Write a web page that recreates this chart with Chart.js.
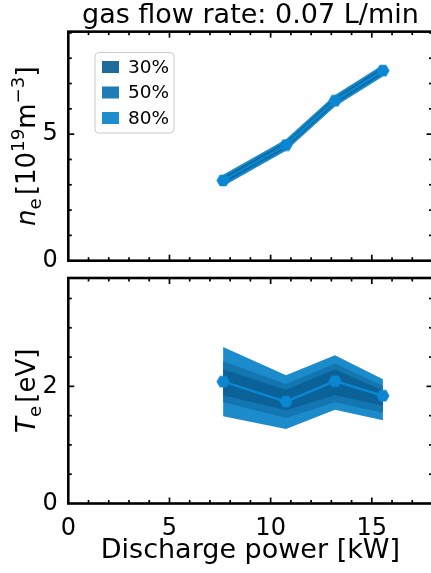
<!DOCTYPE html>
<html>
<head>
<meta charset="utf-8">
<script src="https://cdn.jsdelivr.net/npm/chart.js@4.4.1/dist/chart.umd.min.js"></script>
<style>
  html, body { margin: 0; padding: 0; background: #fff; overflow: hidden; }
  #wrap { position: relative; width: 431px; height: 573px; overflow: hidden; }
  .panel { position: absolute; left: 0; }
  #topPanel { top: 0; }
  #bottomPanel { top: 268px; }
</style>
</head>
<body>
<div id="wrap">
  <div class="panel" id="topPanel"><canvas id="neChart" width="470" height="276"></canvas></div>
  <div class="panel" id="bottomPanel"><canvas id="teChart" width="470" height="305"></canvas></div>
</div>
<script>
// Discharge power [kW] of each measurement
const power = [7.65, 10.76, 13.18, 15.55];

// Electron density [1e19 m^-3]: median and credible bands
const neMedian = [3.17, 4.57, 6.32, 7.51];
const neLow30  = [3.07, 4.47, 6.22, 7.41];
const neHigh30 = [3.27, 4.67, 6.42, 7.61];
const neLow50  = [3.02, 4.42, 6.17, 7.36];
const neHigh50 = [3.32, 4.72, 6.47, 7.66];
const neLow80  = [2.94, 4.34, 6.09, 7.28];
const neHigh80 = [3.40, 4.80, 6.55, 7.74];

// Electron temperature [eV]: median and credible bands
const teMedian = [2.08, 1.74, 2.09, 1.84];
const teLow30  = [1.85, 1.59, 1.85, 1.67];
const teHigh30 = [2.29, 1.94, 2.29, 1.93];
const teLow50  = [1.73, 1.46, 1.73, 1.55];
const teHigh50 = [2.43, 2.04, 2.39, 2.01];
const teLow80  = [1.49, 1.27, 1.60, 1.42];
const teHigh80 = [2.67, 2.19, 2.53, 2.12];

const bandLabels = ['30%', '50%', '80%'];

// Axis ticks
const powerTicks = [0, 5, 10, 15];
const powerMinorTicks = [1, 2, 3, 4, 6, 7, 8, 9, 11, 12, 13, 14, 16, 17];
const neTicks = [0, 5];
const neMinorTicks = [1, 2, 3, 4, 6, 7, 8, 9];
const teTicks = [0, 2];
const teMinorTicks = [0.5, 1, 1.5, 2.5, 3, 3.5];

// Styling
const FONT = '"DejaVu Sans", sans-serif';
const lineColor = '#0a86d2';
const bandFill = ['#0b6298', '#1476b0', '#1b8bcb'];
const legendFill = ['#1d6b9b', '#1d7db6', '#1c8dcc'];

Chart.defaults.font.family = FONT;
Chart.defaults.color = '#000';

// Flat-topped hexagon marker
const hexMarker = (() => {
  const c = document.createElement('canvas');
  c.width = 14; c.height = 13;
  const g = c.getContext('2d');
  const r = 6.6, cx = 7, cy = 6.5;
  g.beginPath();
  for (let k = 0; k < 6; k++) {
    const a = Math.PI / 3 * k;
    const px = cx + r * Math.cos(a), py = cy + r * Math.sin(a);
    k ? g.lineTo(px, py) : g.moveTo(px, py);
  }
  g.closePath();
  g.fillStyle = lineColor;
  g.fill();
  return c;
})();

function pts(ys) { return power.map((x, i) => ({ x, y: ys[i] })); }

function buildDatasets(median, bands) {
  const ds = [{
    data: pts(median), borderColor: lineColor, borderWidth: 2.5,
    pointStyle: hexMarker, pointRadius: 6.5, pointHoverRadius: 6.5, fill: false
  }];
  bands.forEach(([hi, lo], k) => {
    const hiIndex = ds.length;
    ds.push({
      label: bandLabels[k], legendColor: legendFill[k],
      data: pts(hi), borderWidth: 0, pointRadius: 0, pointHoverRadius: 0,
      backgroundColor: bandFill[k], fill: hiIndex + 1
    });
    ds.push({ data: pts(lo), borderWidth: 0, pointRadius: 0, pointHoverRadius: 0, fill: false });
  });
  return ds;
}

// Spines on all four sides with inward-pointing major/minor ticks
const framePlugin = {
  id: 'frame',
  afterDraw(chart, args, o) {
    const { ctx, chartArea: a, scales: { x, y } } = chart;
    ctx.save();
    ctx.strokeStyle = '#000';
    ctx.lineCap = 'butt';
    const seg = (x1, y1, x2, y2) => { ctx.beginPath(); ctx.moveTo(x1, y1); ctx.lineTo(x2, y2); ctx.stroke(); };
    ctx.lineWidth = 1.7;
    const major = 6, minor = 3.5;
    const xs = [...o.xMajor.map(v => [v, major]), ...o.xMinor.map(v => [v, minor])];
    for (const [v, len] of xs) {
      const px = x.getPixelForValue(v);
      if (px <= a.left + 1 || px >= a.right - 1) continue;
      seg(px, a.bottom, px, a.bottom - len);
      seg(px, a.top, px, a.top + len);
    }
    const ys = [...o.yMajor.map(v => [v, major]), ...o.yMinor.map(v => [v, minor])];
    for (const [v, len] of ys) {
      const py = y.getPixelForValue(v);
      if (py >= a.bottom - 1 || py <= a.top + 1) continue;
      seg(a.left, py, a.left + len, py);
      seg(a.right, py, a.right - len, py);
    }
    ctx.lineWidth = 2.6;
    ctx.strokeRect(a.left, a.top, a.right - a.left, a.bottom - a.top);
    ctx.restore();
  }
};

// Rotated y-axis title with italic symbol, subscript and superscripts
const axisLabelPlugin = {
  id: 'axisLabel',
  afterDraw(chart, args, o) {
    const { ctx, chartArea: a } = chart;
    const size = o.size;
    const items = o.parts.map(p => {
      const s = p.script ? size * 0.7 : size;
      const font = `${p.italic ? 'italic ' : ''}${s}px ${FONT}`;
      ctx.font = font;
      const w = p.gap ? p.gap * size : ctx.measureText(p.t).width;
      return { ...p, font, w };
    });
    const total = items.reduce((s, it) => s + it.w, 0);
    ctx.save();
    ctx.translate(o.x, (a.top + a.bottom) / 2);
    ctx.rotate(-Math.PI / 2);
    ctx.fillStyle = '#000';
    ctx.textBaseline = 'alphabetic';
    ctx.textAlign = 'left';
    let pos = -total / 2;
    for (const it of items) {
      if (!it.gap) {
        ctx.font = it.font;
        const dy = it.script === 'sub' ? size * 0.22 : it.script === 'sup' ? -size * 0.42 : 0;
        ctx.fillText(it.t, pos, dy);
      }
      pos += it.w;
    }
    ctx.restore();
  }
};

// Boxed legend inside the upper panel
const bandLegendPlugin = {
  id: 'bandLegend',
  afterDraw(chart, args, o) {
    if (!o.show) return;
    const { ctx } = chart;
    const entries = chart.data.datasets.filter(d => d.legendColor);
    const bx = 95, by = 52.5, bw = 79, bh = 80.5, r = 4;
    ctx.save();
    ctx.beginPath();
    ctx.roundRect(bx, by, bw, bh, r);
    ctx.fillStyle = 'rgba(255,255,255,0.8)';
    ctx.fill();
    ctx.strokeStyle = '#cccccc';
    ctx.lineWidth = 1;
    ctx.stroke();
    ctx.font = `18.5px ${FONT}`;
    ctx.textBaseline = 'middle';
    ctx.textAlign = 'left';
    entries.forEach((d, i) => {
      const cy = 67 + i * 25.5;
      ctx.fillStyle = d.legendColor;
      ctx.fillRect(102, cy - 6, 17, 12);
      ctx.fillStyle = '#000';
      ctx.fillText(d.label, 128, cy + 1);
    });
    ctx.restore();
  }
};

function ticksFrom(list) {
  return s => { s.ticks = list.map(v => ({ value: v })); };
}

const common = {
  responsive: false,
  devicePixelRatio: 1,
  animation: false,
  events: []
};

// Upper panel: electron density
new Chart(document.getElementById('neChart'), {
  type: 'line',
  data: { datasets: buildDatasets(neMedian, [[neHigh30, neLow30], [neHigh50, neLow50], [neHigh80, neLow80]]) },
  options: {
    ...common,
    layout: { padding: { left: 0, right: 37.5, top: 0, bottom: 15.3 } },
    scales: {
      x: {
        type: 'linear', min: 0, max: 18,
        ticks: { display: false }, grid: { display: false }, border: { display: false },
        afterBuildTicks: ticksFrom(powerTicks),
        afterFit(s) { s.height = 0; s.paddingLeft = 0; s.paddingRight = 0; }
      },
      y: {
        type: 'linear', min: 0, max: 9.05,
        grid: { display: false }, border: { display: false },
        afterBuildTicks: ticksFrom(neTicks),
        ticks: { color: '#000', font: { size: 24 }, padding: 2.5 },
        afterFit(s) { s.width = 68.3; s.paddingTop = 0; s.paddingBottom = 0; }
      }
    },
    plugins: {
      legend: { display: false },
      tooltip: { enabled: false },
      title: {
        display: true, text: 'gas flow rate: 0.07 L/min', color: '#000', fullSize: false,
        font: { size: 27, weight: 'normal', lineHeight: 1.15 }, padding: { top: 0.6, bottom: 0 }
      },
      frame: { xMajor: powerTicks, xMinor: powerMinorTicks, yMajor: neTicks, yMinor: neMinorTicks },
      axisLabel: {
        x: 35, size: 26,
        parts: [
          { t: 'n', italic: true }, { t: 'e', script: 'sub' }, { gap: 0.12 },
          { t: '[10' }, { t: '19', script: 'sup' }, { t: 'm' },
          { t: '\u2212', script: 'sup' }, { t: '3', script: 'sup' }, { t: ']' }
        ]
      },
      bandLegend: { show: true }
    }
  },
  plugins: [framePlugin, axisLabelPlugin, bandLegendPlugin]
});

// Lower panel: electron temperature
new Chart(document.getElementById('teChart'), {
  type: 'line',
  data: { datasets: buildDatasets(teMedian, [[teHigh30, teLow30], [teHigh50, teLow50], [teHigh80, teLow80]]) },
  options: {
    ...common,
    layout: { padding: { left: 0, right: 37.5, top: 10, bottom: 0 } },
    scales: {
      x: {
        type: 'linear', min: 0, max: 18,
        grid: { display: false }, border: { display: false },
        afterBuildTicks: ticksFrom(powerTicks),
        ticks: { color: '#000', font: { size: 24 }, padding: 3, maxRotation: 0 },
        title: {
          display: true, text: 'Discharge power [kW]', color: '#000',
          font: { size: 27, lineHeight: 1.2 }, padding: { top: 0, bottom: 5.5 }
        },
        afterFit(s) { s.height = 69.5; s.paddingLeft = 0; s.paddingRight = 0; }
      },
      y: {
        type: 'linear', min: 0, max: 3.85,
        grid: { display: false }, border: { display: false },
        afterBuildTicks: ticksFrom(teTicks),
        ticks: { color: '#000', font: { size: 24 }, padding: 2.5 },
        afterFit(s) { s.width = 68.3; s.paddingTop = 0; s.paddingBottom = 0; }
      }
    },
    plugins: {
      legend: { display: false },
      tooltip: { enabled: false },
      frame: { xMajor: powerTicks, xMinor: powerMinorTicks, yMajor: teTicks, yMinor: teMinorTicks },
      axisLabel: {
        x: 35, size: 26,
        parts: [
          { t: 'T', italic: true }, { t: 'e', script: 'sub' }, { gap: 0.12 }, { t: '[eV]' }
        ]
      },
      bandLegend: { show: false }
    }
  },
  plugins: [framePlugin, axisLabelPlugin, bandLegendPlugin]
});
</script>
</body>
</html>
